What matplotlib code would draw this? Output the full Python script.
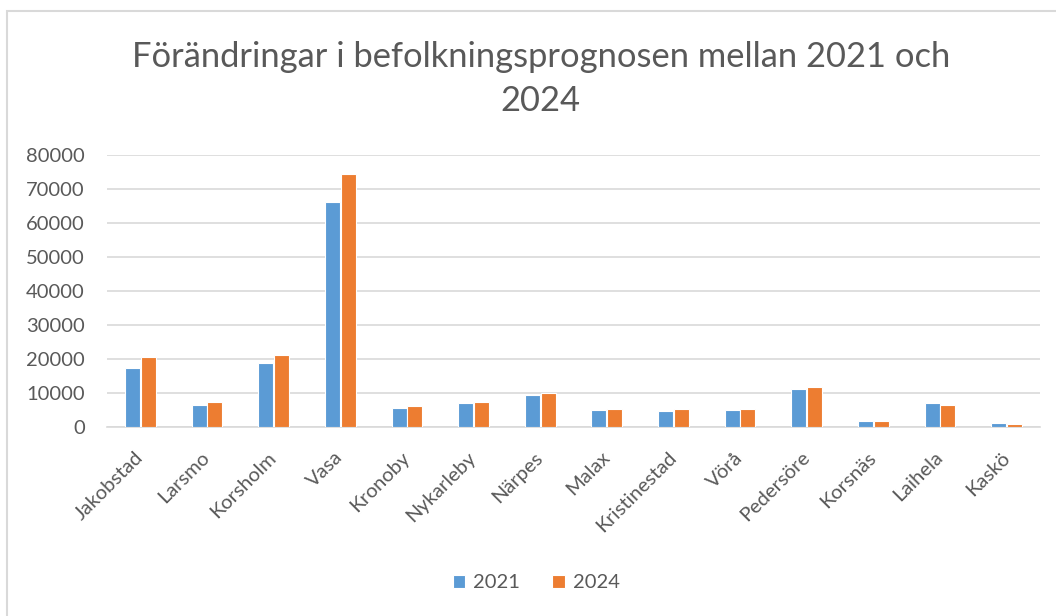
import matplotlib.pyplot as plt
import numpy as np
from matplotlib.patches import Rectangle

kommuner = ['Jakobstad', 'Larsmo', 'Korsholm', 'Vasa', 'Kronoby', 'Nykarleby', 'Närpes',
            'Malax', 'Kristinestad', 'Vörå', 'Pedersöre', 'Korsnäs', 'Laihela', 'Kaskö']
prognos_2021 = [17350, 6470, 18920, 66270, 5490, 6960, 9510, 5050, 4850, 5050, 11260, 1840, 7180, 1260]
prognos_2024 = [20490, 7450, 21180, 74410, 6080, 7450, 10100, 5440, 5150, 5340, 11750, 1840, 6600, 970]
y_ticks = [0, 10000, 20000, 30000, 40000, 50000, 60000, 70000, 80000]

plt.rcParams['font.family'] = ['Lato', 'DejaVu Sans']
grey = '#595959'

fig = plt.figure(figsize=(10.56, 6.16), dpi=100)
# chart frame like in excel
fig.patches.append(Rectangle((7 / 1056, -0.1), 1.2, (616 - 11) / 616 + 0.1,
                             transform=fig.transFigure, fill=False,
                             edgecolor='#d9d9d9', linewidth=1.5))

ax = fig.add_axes([107 / 1056, 1 - 427 / 616, (1040 - 107) / 1056, (427 - 155) / 616])

x = np.arange(len(kommuner))
w = 0.225
ax.bar(x - w / 2 - 0.005, prognos_2021, w, color='#5B9BD5', edgecolor='white', linewidth=0.8, label='2021', zorder=3)
ax.bar(x + w / 2 + 0.005, prognos_2024, w, color='#ED7D31', edgecolor='white', linewidth=0.8, label='2024', zorder=3)

ax.set_xlim(-0.5, len(kommuner) - 0.5)
ax.set_ylim(0, 80000)
ax.set_yticks(y_ticks)
ax.set_yticklabels([str(t) for t in y_ticks])
ax.yaxis.grid(True, color='#d9d9d9', linewidth=1.2, zorder=0)
for s in ['top', 'right', 'left']:
    ax.spines[s].set_visible(False)
ax.spines['bottom'].set_color('#d9d9d9')
ax.spines['bottom'].set_linewidth(1.2)
ax.tick_params(axis='both', length=0, colors=grey, labelsize=14.5)
ax.tick_params(axis='y', pad=16)
ax.tick_params(axis='x', pad=20)
ax.set_xticks(x)
ax.set_xticklabels(kommuner, rotation=45, ha='right', va='center', rotation_mode='anchor')

fig.text(0.512, 1 - 57 / 616, 'Förändringar i befolkningsprognosen mellan 2021 och',
         ha='center', va='center', fontsize=24.8, color=grey)
fig.text(0.512, 1 - 101 / 616, '2024', ha='center', va='center', fontsize=24.8, color=grey)

fig.legend(loc='center', bbox_to_anchor=(0.508, 1 - 583 / 616), ncol=2, frameon=False,
           fontsize=14.5, labelcolor=grey, handlelength=0.6, handleheight=0.6,
           handletextpad=0.4, columnspacing=1.6)

fig.savefig('out.png', dpi=100)
